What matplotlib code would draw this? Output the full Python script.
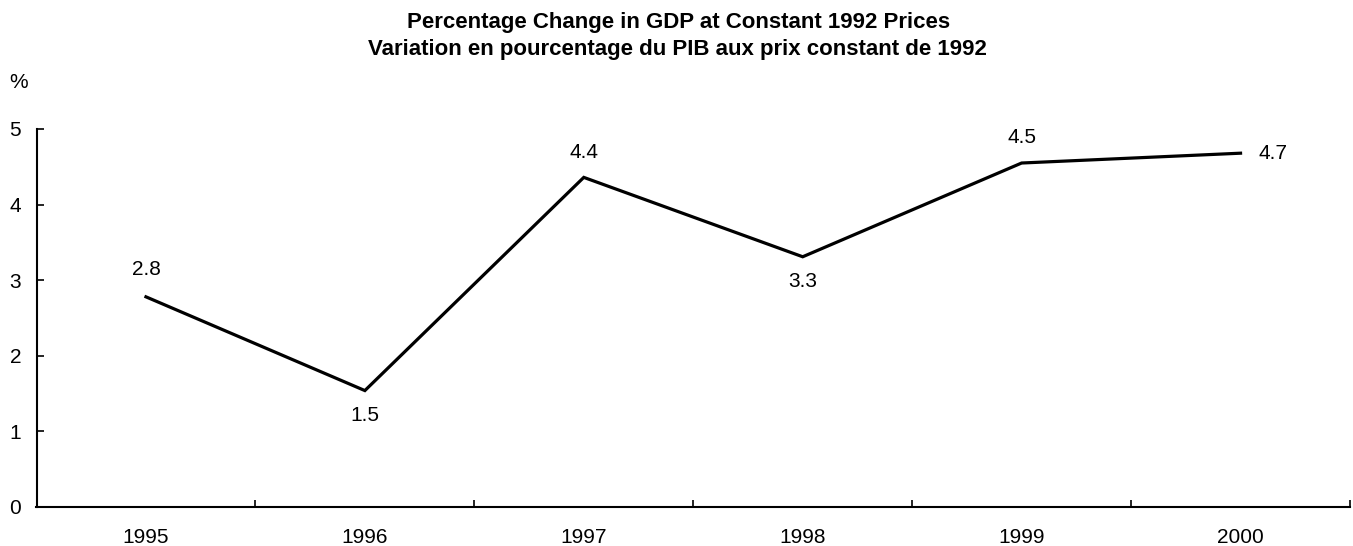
import matplotlib
matplotlib.use("Agg")
import matplotlib.pyplot as plt

years = ["1995", "1996", "1997", "1998", "1999", "2000"]
values = [2.78, 1.54, 4.36, 3.31, 4.55, 4.68]
labels = ["2.8", "1.5", "4.4", "3.3", "4.5", "4.7"]
yticks = [0, 1, 2, 3, 4, 5]

plt.rcParams['font.family'] = ['Liberation Sans', 'DejaVu Sans']
W, H = 1353, 546
fig = plt.figure(figsize=(W / 100, H / 100), dpi=100)
left, right, top, bottom = 36.5, 1350, 129, 507
ax = fig.add_axes([left / W, 1 - bottom / H, (right - left) / W, (bottom - top) / H])

x = list(range(len(years)))
ax.plot(x, values, color='black', lw=2.3, solid_joinstyle='miter')
ax.set_xlim(-0.5, len(years) - 0.5)
ax.set_ylim(0, 5)

for spine in ['top', 'right']:
    ax.spines[spine].set_visible(False)
for spine in ['left', 'bottom']:
    ax.spines[spine].set_linewidth(1.5)

ax.set_yticks(yticks)
ax.set_yticklabels([str(v) for v in yticks])
ax.set_xticks([i + 0.5 for i in x])
ax.set_xticklabels([])
ax.set_xticks(x, minor=True)
ax.set_xticklabels(years, minor=True)
ax.tick_params(axis='x', which='minor', length=0, pad=15, labelsize=15)
ax.tick_params(axis='x', which='major', direction='in', length=5, width=1.2)
ax.tick_params(axis='y', direction='in', length=5, width=1.2, pad=11, labelsize=15)

px = 0.72
offsets = [(0, 27, 'center'), (0, -25, 'center'), (0, 25, 'center'),
           (0, -25, 'center'), (0, 26, 'center'), (18, 0, 'left')]
for i, (v, lab) in enumerate(zip(values, labels)):
    dx, dy, ha = offsets[i]
    ax.annotate(lab, (i, v), xytext=(dx * px, dy * px), textcoords='offset points',
                ha=ha, va='center', fontsize=15)

fig.text(679 / W, 1 - 28 / H, "Percentage Change in GDP at Constant 1992 Prices",
         ha='center', va='baseline', fontsize=16, fontweight='bold')
fig.text(677 / W, 1 - 55 / H, "Variation en pourcentage du PIB aux prix constant de 1992",
         ha='center', va='baseline', fontsize=16, fontweight='bold')
fig.text(9 / W, 1 - 83 / H, "%", ha='left', va='center', fontsize=15)

fig.savefig("out.png", dpi=100)
